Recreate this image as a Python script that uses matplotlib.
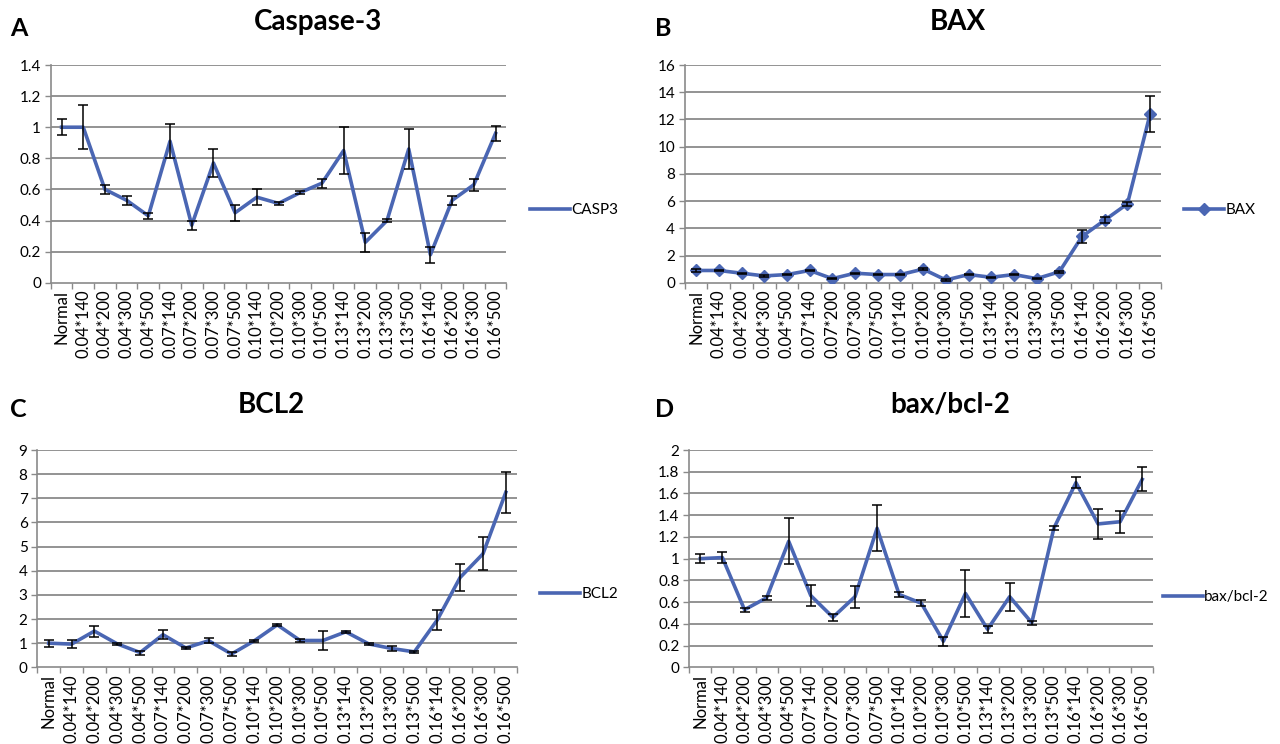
import numpy as np
import matplotlib
matplotlib.use("Agg")
import matplotlib.pyplot as plt

plt.rcParams['font.family'] = ['Lato', 'DejaVu Sans']

groups = ["Normal", "0.04*140", "0.04*200", "0.04*300", "0.04*500",
          "0.07*140", "0.07*200", "0.07*300", "0.07*500",
          "0.10*140", "0.10*200", "0.10*300", "0.10*500",
          "0.13*140", "0.13*200", "0.13*300", "0.13*500",
          "0.16*140", "0.16*200", "0.16*300", "0.16*500"]

casp3 = [1.0, 1.0, 0.60, 0.53, 0.43, 0.91, 0.37, 0.77, 0.45, 0.55, 0.51,
         0.58, 0.64, 0.85, 0.26, 0.40, 0.86, 0.18, 0.53, 0.63, 0.96]
casp3_err = [0.05, 0.14, 0.03, 0.03, 0.02, 0.11, 0.03, 0.09, 0.05, 0.05, 0.01,
             0.01, 0.03, 0.15, 0.06, 0.01, 0.13, 0.05, 0.03, 0.04, 0.05]

bax = [0.9, 0.9, 0.7, 0.5, 0.6, 0.9, 0.3, 0.7, 0.6, 0.6, 1.0,
       0.2, 0.6, 0.4, 0.6, 0.3, 0.8, 3.4, 4.6, 5.8, 12.4]
bax_err = [0.1, 0.05, 0.05, 0.05, 0.05, 0.05, 0.05, 0.05, 0.05, 0.05, 0.05,
           0.05, 0.05, 0.05, 0.05, 0.05, 0.05, 0.5, 0.2, 0.15, 1.3]

bcl2 = [1.0, 0.96, 1.5, 0.97, 0.61, 1.35, 0.8, 1.1, 0.55, 1.1, 1.76,
        1.11, 1.11, 1.47, 0.97, 0.78, 0.64, 1.96, 3.72, 4.7, 7.25]
bcl2_err = [0.15, 0.15, 0.23, 0.03, 0.08, 0.18, 0.05, 0.1, 0.07, 0.05, 0.03,
            0.08, 0.4, 0.03, 0.05, 0.1, 0.03, 0.4, 0.57, 0.68, 0.86]

ratio = [1.0, 1.01, 0.53, 0.64, 1.16, 0.66, 0.46, 0.65, 1.28, 0.67, 0.59,
         0.24, 0.68, 0.35, 0.65, 0.41, 1.28, 1.70, 1.32, 1.34, 1.73]
ratio_err = [0.04, 0.05, 0.02, 0.02, 0.21, 0.1, 0.03, 0.1, 0.21, 0.02, 0.03,
             0.04, 0.22, 0.03, 0.13, 0.02, 0.02, 0.05, 0.14, 0.1, 0.11]

blue = "#4a66b3"
grid = "#8a8a8a"

fig = plt.figure(figsize=(12.8, 7.44), dpi=100)


def px(xp, yp):
    # pixel position -> figure fraction
    return xp / 1280, 1 - yp / 744


def panel(rect, vals, errs, ymax, ystep, title, title_xy, letter, letter_xy,
          name, leg_xy, marker=None):
    ax = fig.add_axes(rect)
    x = np.arange(len(groups))
    ax.plot(x, vals, color=blue, lw=2.6, marker=marker, ms=6, label=name, zorder=3)
    ax.errorbar(x, vals, yerr=errs, fmt="none", ecolor="black", elinewidth=1.1,
                capsize=3.5, capthick=1.1, zorder=4)
    ax.set_xlim(-0.5, len(groups) - 0.5)
    ax.set_ylim(0, ymax)
    yt = np.arange(0, ymax + ystep / 2, ystep)
    ax.set_yticks(yt)
    ax.set_yticklabels([f"{v:g}" for v in yt], fontsize=11)
    ax.set_xticks(x)
    ax.set_xticklabels(groups, rotation=90, fontsize=12)
    ax.set_xticks(np.arange(-0.5, len(groups)), minor=True)
    ax.tick_params(axis="x", which="major", length=0, pad=5)
    ax.tick_params(axis="x", which="minor", length=4, color=grid, width=1)
    ax.tick_params(axis="y", length=4, color=grid, width=1, pad=3)
    for v in yt[1:]:
        ax.axhline(v, color=grid, lw=1.3, zorder=1)
    for s in ["top", "right"]:
        ax.spines[s].set_visible(False)
    for s in ["left", "bottom"]:
        ax.spines[s].set_color(grid)
        ax.spines[s].set_linewidth(1.2)
    tx, ty = px(*title_xy)
    fig.text(tx, ty, title, fontsize=20, fontweight="bold", ha="center", va="center")
    fig.legend(handles=ax.get_lines()[:1], loc="center left",
               bbox_to_anchor=px(*leg_xy),
               frameon=False, fontsize=11, handlelength=2.6, handletextpad=0.1,
               borderaxespad=0, borderpad=0)
    lx, ly = px(*letter_xy)
    fig.text(lx, ly, letter, fontsize=18, fontweight="bold", ha="left", va="center")
    return ax


panel([0.0396, 0.620, 0.356, 0.2926], casp3, casp3_err, 1.4, 0.2,
      "Caspase-3", (318, 22), "A", (10, 28), "CASP3", (530, 210))
panel([0.535, 0.620, 0.3724, 0.2926], bax, bax_err, 16, 2,
      "BAX", (958, 22), "B", (655, 28), "BAX", (1184, 210), marker="D")
panel([0.0291, 0.1031, 0.375, 0.292], bcl2, bcl2_err, 9, 1,
      "BCL2", (271, 405), "C", (10, 410), "BCL2", (540, 594))
panel([0.5385, 0.1031, 0.3625, 0.292], ratio, ratio_err, 2, 0.2,
      "bax/bcl-2", (950, 405), "D", (655, 410), "bax/bcl-2", (1163, 597))

fig.savefig("out.png", dpi=100)
